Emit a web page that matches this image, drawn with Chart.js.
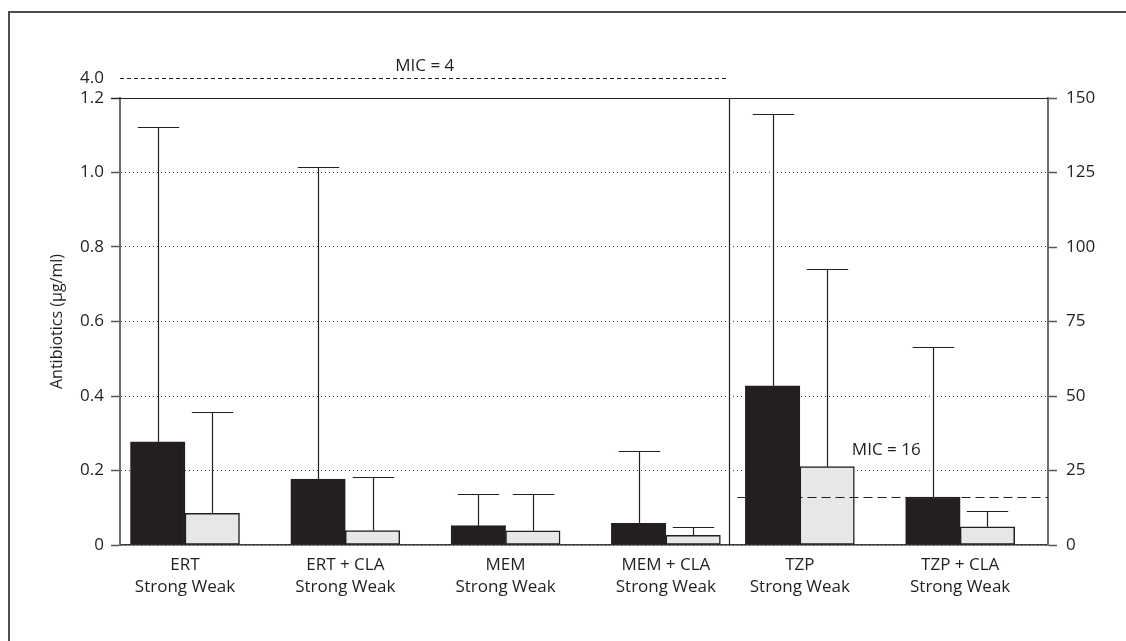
<!DOCTYPE html>
<html>
<head>
<meta charset="utf-8">
<script src="https://cdn.jsdelivr.net/npm/chart.js@4.4.1/dist/chart.umd.min.js"></script>
<style>
  html, body { margin: 0; padding: 0; background: #fff; }
  #chart { display: block; }
</style>
</head>
<body>
<canvas id="chart" width="1126" height="641"></canvas>
<script>
// carbapenem groups, left axis (µg/ml)
const leftGroups = ['ERT', 'ERT + CLA', 'MEM', 'MEM + CLA'];
const leftStrong = [0.277, 0.177, 0.052, 0.058];
const leftWeak = [0.085, 0.039, 0.038, 0.026];
const leftStrongUpper = [1.123, 1.016, 0.136, 0.252];
const leftWeakUpper = [0.356, 0.182, 0.138, 0.048];

// piperacillin/tazobactam groups, right axis
const rightGroups = ['TZP', 'TZP + CLA'];
const rightStrong = [53.4, 16.1];
const rightWeak = [26.3, 6.1];
const rightStrongUpper = [144.6, 66.5];
const rightWeakUpper = [92.6, 11.5];

const subLabel = 'Strong Weak';
const leftTicks = [0, 0.2, 0.4, 0.6, 0.8, 1.0, 1.2];
const rightTicks = [0, 25, 50, 75, 100, 125, 150];
const micLeft = 4;    // off scale, drawn above the axis break
const micRight = 16;

const ink = '#231f20';
const weakFill = '#e6e7e8';
const fontFamily = '"Open Sans", sans-serif';

// x runs in group slots; the TZP panel starts right after the left one
const xMin = 0.5945;
const xMax = 6.384;
const panelBreak = 4.396;
const leftX = leftGroups.map((g, i) => i + 1);
const rightX = rightGroups.map((g, i) => panelBreak + 0.44 + i);
const allX = leftX.concat(rightX);
const allGroups = leftGroups.concat(rightGroups);

const points = (xs, vals) => vals.map((v, i) => ({ x: xs[i], y: v }));

function barSet(xs, vals, upper, fill, yId, stack) {
    return {
        data: points(xs, vals),
        upper: upper,
        yAxisID: yId,
        stack: stack,
        backgroundColor: fill,
        borderColor: ink,
        borderWidth: 1.5,
        borderSkipped: false,
        barThickness: 54.5
    };
}

// dashed MIC marks, axis break, divider, error bars, outer frame
const extras = {
    id: 'extras',
    beforeDraw(chart) {
        const ctx = chart.ctx;
        ctx.save();
        ctx.strokeStyle = '#4d4d4d';
        ctx.lineWidth = 2;
        ctx.beginPath();
        ctx.moveTo(9, chart.height);
        ctx.lineTo(9, 12);
        ctx.lineTo(chart.width, 12);
        ctx.stroke();
        ctx.restore();
    },
    afterDatasetsDraw(chart) {
        const { ctx, chartArea: a, scales } = chart;
        const xs = scales.x;
        ctx.save();
        ctx.strokeStyle = ink;
        ctx.lineWidth = 1.2;

        chart.data.datasets.forEach((ds, di) => {
            const meta = chart.getDatasetMeta(di);
            const ys = scales[ds.yAxisID];
            meta.data.forEach((bar, i) => {
                const yc = Math.round(ys.getPixelForValue(ds.upper[i])) + 0.5;
                const x = Math.round(bar.x) + 0.5;
                const half = bar.width * 0.38;
                ctx.beginPath();
                ctx.moveTo(x, bar.y);
                ctx.lineTo(x, yc);
                ctx.moveTo(x - half, yc);
                ctx.lineTo(x + half, yc);
                ctx.stroke();
            });
        });

        // top line of the plot box, running into the 1.2 tick
        ctx.beginPath();
        ctx.moveTo(a.left - 9, a.top + 0.5);
        ctx.lineTo(a.right, a.top + 0.5);
        ctx.stroke();

        // divider between the two panels
        const xd = Math.round(xs.getPixelForValue(panelBreak)) + 0.5;
        ctx.beginPath();
        ctx.moveTo(xd, a.top);
        ctx.lineTo(xd, a.bottom);
        ctx.stroke();

        // MIC = 4, above the break
        const y4 = a.top - 19.5;
        ctx.setLineDash([4, 3]);
        ctx.lineWidth = 1;
        ctx.beginPath();
        ctx.moveTo(a.left, y4);
        ctx.lineTo(xd - 1, y4);
        ctx.stroke();

        // MIC = 16 on the right axis
        const y16 = Math.round(scales.yR.getPixelForValue(micRight)) + 0.5;
        ctx.setLineDash([9, 5]);
        ctx.lineWidth = 1.2;
        ctx.beginPath();
        ctx.moveTo(xd + 8, y16);
        ctx.lineTo(a.right, y16);
        ctx.stroke();
        ctx.setLineDash([]);

        ctx.fillStyle = ink;
        ctx.font = '17px ' + fontFamily;
        ctx.textBaseline = 'middle';
        ctx.textAlign = 'right';
        ctx.fillText(micLeft.toFixed(1), a.left - 16, y4);
        ctx.textAlign = 'center';
        ctx.fillText('MIC = ' + micLeft, (a.left + xd) / 2, y4 - 12);
        ctx.textAlign = 'left';
        ctx.fillText('MIC = ' + micRight, xs.getPixelForValue(rightX[0]) + 52, y16 - 47);
        ctx.restore();
    }
};

new Chart(document.getElementById('chart'), {
    type: 'bar',
    data: {
        datasets: [
            barSet(leftX, leftStrong, leftStrongUpper, ink, 'yL', 'strong'),
            barSet(leftX, leftWeak, leftWeakUpper, weakFill, 'yL', 'weak'),
            barSet(rightX, rightStrong, rightStrongUpper, ink, 'yR', 'strong'),
            barSet(rightX, rightWeak, rightWeakUpper, weakFill, 'yR', 'weak')
        ]
    },
    options: {
        responsive: false,
        animation: false,
        layout: { padding: { top: 98, left: 0, right: 0, bottom: 0 } },
        plugins: { legend: { display: false }, tooltip: { enabled: false } },
        scales: {
            x: {
                type: 'linear',
                position: 'bottom',
                offset: false,
                min: xMin,
                max: xMax,
                grid: { display: false, drawTicks: false, offset: false },
                border: { display: true, color: '#3a3a3a', width: 1.5 },
                afterBuildTicks: (s) => { s.ticks = allX.map((v) => ({ value: v })); },
                afterFit: (s) => { s.height = 96; },
                ticks: {
                    autoSkip: false,
                    maxRotation: 0,
                    padding: 10,
                    color: ink,
                    font: { family: fontFamily, size: 17, lineHeight: 1.25 },
                    callback: (v, i) => [allGroups[i], subLabel]
                }
            },
            yL: {
                type: 'linear',
                position: 'left',
                stacked: false,
                min: 0,
                max: 1.2,
                afterBuildTicks: (s) => { s.ticks = leftTicks.map((v) => ({ value: v })); },
                afterFit: (s) => { s.width = 120; },
                grid: {
                    color: '#444',
                    lineWidth: 1,
                    tickLength: 9,
                    tickColor: '#555',
                    tickWidth: 1.5
                },
                border: { display: true, color: '#6d6d6d', width: 2, dash: [1, 3] },
                ticks: {
                    padding: 7,
                    color: ink,
                    font: { family: fontFamily, size: 17 },
                    callback: (v) => (v === 0 ? '0' : v.toFixed(1))
                },
                title: {
                    display: true,
                    text: 'Antibiotics (µg/ml)',
                    color: ink,
                    font: { family: fontFamily, size: 16 },
                    padding: { top: 48, bottom: 0 }
                }
            },
            yR: {
                type: 'linear',
                position: 'right',
                stacked: false,
                min: 0,
                max: 150,
                afterBuildTicks: (s) => { s.ticks = rightTicks.map((v) => ({ value: v })); },
                afterFit: (s) => { s.width = 78; },
                grid: {
                    drawOnChartArea: false,
                    tickLength: 9,
                    tickColor: '#555',
                    tickWidth: 1.5
                },
                border: { display: true, color: '#6d6d6d', width: 2 },
                ticks: {
                    padding: 9,
                    color: ink,
                    font: { family: fontFamily, size: 17 }
                }
            }
        }
    },
    plugins: [extras]
});
</script>
</body>
</html>
